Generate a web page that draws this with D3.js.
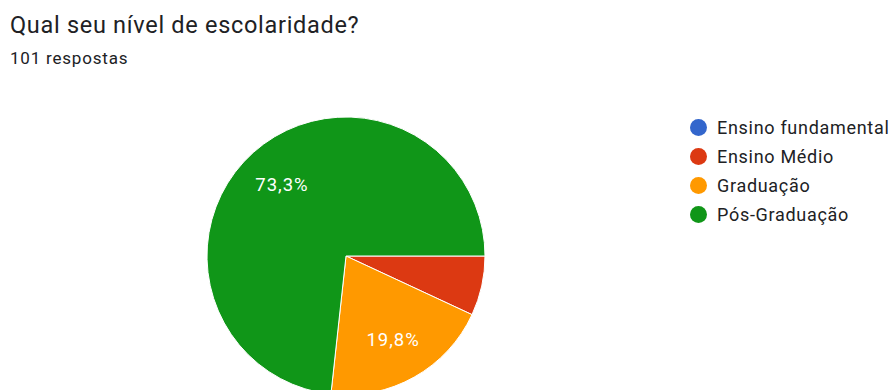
<!DOCTYPE html>
<html>
<head>
<meta charset="utf-8">
<script src="https://cdn.jsdelivr.net/npm/d3@7"></script>
<style>
  body { margin: 0; background: #fff; }
  svg { display: block; font-family: Roboto, "Noto Sans", sans-serif; }
</style>
</head>
<body>
<div id="chart"></div>
<script>
"use strict"

const categories = ["Ensino fundamental", "Ensino Médio", "Graduação", "Pós-Graduação"];
const counts = [0, 7, 20, 74];
const colors = ["#3366cc", "#dc3912", "#ff9900", "#109618"];
const titleText = "Qual seu nível de escolaridade?";
const subtitleText = "101 respostas";

let width = 891, height = 390;
let cx = 346, cy = 256, radius = 139;

let svg = d3.select("#chart")
  .append("svg")
  .attr("width", width)
  .attr("height", height);

svg.append("text")
  .attr("x", 10)
  .attr("y", 33)
  .style("font-size", "23.5px")
  .style("letter-spacing", "0.7px")
  .style("fill", "#202124")
  .text(titleText);

svg.append("text")
  .attr("x", 10)
  .attr("y", 63.5)
  .style("font-size", "17px")
  .style("letter-spacing", "0.8px")
  .style("fill", "#202124")
  .text(subtitleText);

let total = d3.sum(counts);
let data = categories.map(function(c, i) { return {name: c, value: counts[i], color: colors[i]}; });

let pie = d3.pie()
  .value(function(d) { return d.value; })
  .sort(null)
  .startAngle(Math.PI / 2)
  .endAngle(Math.PI / 2 + 2 * Math.PI);

let arc = d3.arc().innerRadius(0).outerRadius(radius);
let labelArc = d3.arc().innerRadius(radius * 0.69).outerRadius(radius * 0.69);

let g = svg.append("g")
  .attr("transform", "translate(" + cx + "," + cy + ")");

let arcs = pie(data).filter(function(d) { return d.data.value > 0; });

g.selectAll("path")
  .data(arcs)
  .enter()
  .append("path")
  .attr("d", arc)
  .style("fill", function(d) { return d.data.color; })
  .style("stroke", "#fff")
  .style("stroke-width", 1);

let fmt = function(v) { return (v / total * 100).toFixed(1).replace(".", ",") + "%"; };

g.selectAll(".lbl")
  .data(arcs.filter(function(d) { return d.data.value / total > 0.1; }))
  .enter()
  .append("text")
  .attr("class", "lbl")
  .attr("transform", function(d) { return "translate(" + labelArc.centroid(d) + ")"; })
  .attr("text-anchor", "middle")
  .attr("dy", "0.36em")
  .style("font-size", "18.5px")
  .style("letter-spacing", "1px")
  .style("fill", "#fff")
  .text(function(d) { return fmt(d.data.value); });

let legendY = d3.scaleBand()
  .domain(categories)
  .range([113, 229]);

let legend = svg.append("g");

let rows = legend.selectAll("g")
  .data(data)
  .enter()
  .append("g")
  .attr("transform", function(d) { return "translate(0," + (legendY(d.name) + legendY.bandwidth() / 2) + ")"; });

rows.append("circle")
  .attr("cx", 698.5)
  .attr("cy", 0)
  .attr("r", 8.5)
  .style("fill", function(d) { return d.color; });

rows.append("text")
  .attr("x", 717)
  .attr("dy", "0.36em")
  .style("font-size", "18px")
  .style("letter-spacing", "0.7px")
  .style("fill", "#202124")
  .text(function(d) { return d.name; });
</script>
</body>
</html>
